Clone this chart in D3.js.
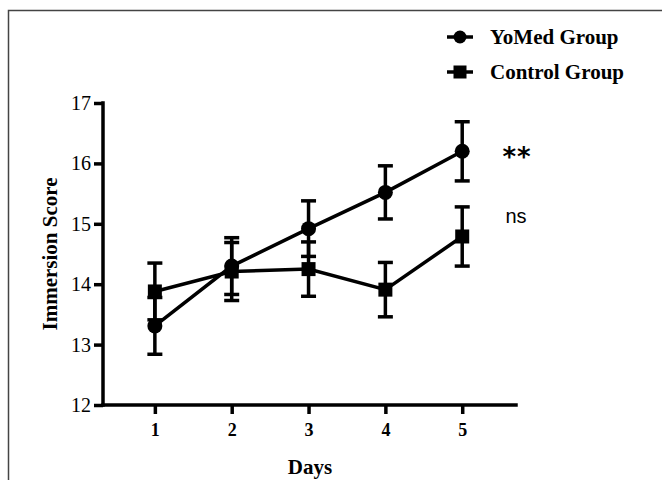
<!DOCTYPE html>
<html>
<head>
<meta charset="utf-8">
<script src="https://cdn.jsdelivr.net/npm/d3@7"></script>
<style>
  body { margin: 0; background: #fff; }
  svg text { font-family: "Liberation Serif", "Times New Roman", serif; }
</style>
</head>
<body>
<div class="canvas"></div>
<script>
      // data
      const days = [1, 2, 3, 4, 5];
      const yomedMean = [13.31, 14.30, 14.92, 15.52, 16.20];
      const yomedSem  = [0.47, 0.47, 0.46, 0.44, 0.49];
      const controlMean = [13.88, 14.21, 14.25, 13.91, 14.79];
      const controlSem  = [0.47, 0.48, 0.45, 0.45, 0.49];
      const yTicks = [12, 13, 14, 15, 16, 17];
      const seriesNames = ['YoMed Group', 'Control Group'];
      const sigLabels = ['**', 'ns'];

      const svg = d3.select('.canvas')
        .append('svg')
        .attr('width', 662)
        .attr('height', 480);

      // frame lines (top + left)
      svg.append('path')
        .attr('d', 'M8.5,480 V10.5 H662')
        .attr('fill', 'none')
        .attr('stroke', '#444')
        .attr('stroke-width', 1.5);

      // scales
      const x = d3.scaleLinear().domain([0.325, 5.7]).range([103, 516]);
      const y = d3.scaleLinear().domain([12, 17]).range([405, 103]);

      const graph = svg.append('g');

      // axes
      const yAxis = d3.axisLeft(y).tickValues(yTicks).tickSize(9).tickPadding(3).tickFormat(d3.format('d'));
      const xAxis = d3.axisBottom(x).tickValues(days).tickSize(9).tickPadding(9).tickFormat(d3.format('d'));

      const yaxisGroup = graph.append('g')
        .attr('transform', 'translate(103,0)')
        .call(yAxis);
      const xaxisGroup = graph.append('g')
        .attr('transform', 'translate(0,405)')
        .call(xAxis);

      [yaxisGroup, xaxisGroup].forEach(g => {
        g.attr('font-family', '"Liberation Serif", serif');
        g.select('.domain').attr('stroke', '#000').attr('stroke-width', 3.5)
          .attr('stroke-linecap', 'square');
        g.selectAll('.tick line').attr('stroke', '#000').attr('stroke-width', 3.5);
        g.selectAll('.tick text').attr('fill', '#000');
      });
      // domain lines without outer ticks
      yaxisGroup.select('.domain').attr('d', `M0,${y(17)}V${y(12)}`);
      xaxisGroup.select('.domain').attr('d', `M${x.range()[0]},0H${x.range()[1]}`);

      yaxisGroup.selectAll('.tick text').style('font-size', '20px');
      xaxisGroup.selectAll('.tick text').style('font-size', '18px').style('font-weight', 'bold');

      // axis titles
      svg.append('text')
        .attr('transform', `translate(57,${y(14.5)}) rotate(-90)`)
        .attr('text-anchor', 'middle')
        .style('font-size', '21px')
        .style('font-weight', 'bold')
        .text('Immersion Score');

      svg.append('text')
        .attr('x', 310)
        .attr('y', 474)
        .attr('text-anchor', 'middle')
        .style('font-size', '21px')
        .style('font-weight', 'bold')
        .text('Days');

      // series
      const series = [
        { name: seriesNames[0], mean: yomedMean, sem: yomedSem, shape: 'circle' },
        { name: seriesNames[1], mean: controlMean, sem: controlSem, shape: 'square' }
      ];

      const line = d3.line()
        .x((d, i) => x(days[i]))
        .y(d => y(d));

      series.forEach(s => {
        const g = graph.append('g');

        // error bars
        days.forEach((d, i) => {
          const hi = y(s.mean[i] + s.sem[i]);
          const lo = y(s.mean[i] - s.sem[i]);
          const cx = x(d);
          g.append('line').attr('x1', cx).attr('x2', cx).attr('y1', hi).attr('y2', lo)
            .attr('stroke', '#000').attr('stroke-width', 3.5);
          [hi, lo].forEach(v => {
            g.append('line').attr('x1', cx - 7.5).attr('x2', cx + 7.5).attr('y1', v).attr('y2', v)
              .attr('stroke', '#000').attr('stroke-width', 3.5);
          });
        });

        g.append('path')
          .datum(s.mean)
          .attr('fill', 'none')
          .attr('stroke', '#000')
          .attr('stroke-width', 3.5)
          .attr('d', line);

        if (s.shape === 'circle') {
          g.selectAll('circle').data(s.mean).enter().append('circle')
            .attr('cx', (d, i) => x(days[i]))
            .attr('cy', d => y(d))
            .attr('r', 7.5)
            .attr('fill', '#000');
        } else {
          g.selectAll('rect').data(s.mean).enter().append('rect')
            .attr('x', (d, i) => x(days[i]) - 7)
            .attr('y', d => y(d) - 7)
            .attr('width', 14)
            .attr('height', 14)
            .attr('fill', '#000');
        }
      });

      // significance labels
      svg.append('text')
        .attr('x', 517).attr('y', 166)
        .attr('text-anchor', 'middle')
        .style('font-family', '"DejaVu Sans", sans-serif')
        .style('font-size', '26px')
        .style('font-weight', 'bold')
        .style('letter-spacing', '1px')
        .text(sigLabels[0]);
      svg.append('text')
        .attr('x', 516).attr('y', 223)
        .attr('text-anchor', 'middle')
        .style('font-family', '"Liberation Sans", Arial, sans-serif')
        .style('font-size', '20px')
        .text(sigLabels[1]);

      // legend
      const legend = svg.append('g');
      series.forEach((s, i) => {
        const ly = 37 + i * 35;
        legend.append('line').attr('x1', 447).attr('x2', 473).attr('y1', ly).attr('y2', ly)
          .attr('stroke', '#000').attr('stroke-width', 3.5);
        if (s.shape === 'circle') {
          legend.append('circle').attr('cx', 460).attr('cy', ly).attr('r', 6.5).attr('fill', '#000');
        } else {
          legend.append('rect').attr('x', 453.5).attr('y', ly - 6.5).attr('width', 13).attr('height', 13).attr('fill', '#000');
        }
        legend.append('text')
          .attr('x', 490).attr('y', ly + 7)
          .style('font-size', '21px')
          .style('font-weight', 'bold')
          .text(s.name);
      });
</script>
</body>
</html>
